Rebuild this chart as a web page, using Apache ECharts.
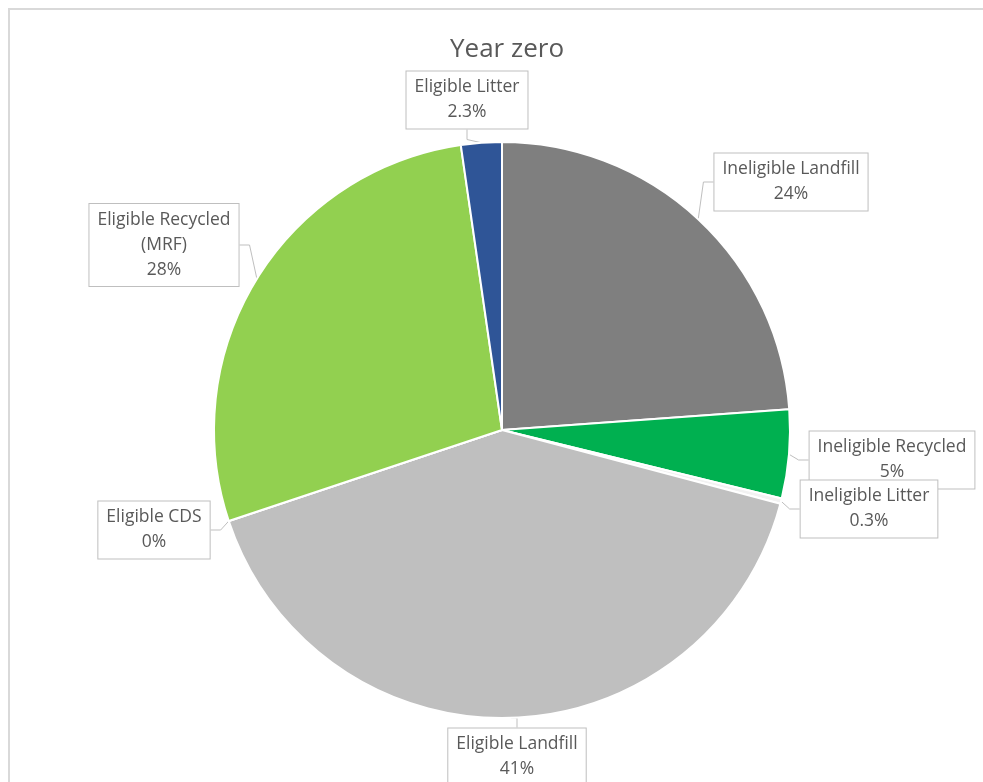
<!DOCTYPE html>
<html>
<head>
<meta charset="utf-8">
<title>Year zero</title>
<script src="https://cdn.jsdelivr.net/npm/echarts@6/dist/echarts.min.js"></script>
<style>
  html, body { margin: 0; padding: 0; background: #ffffff; }
  #chart { width: 983px; height: 782px; }
</style>
</head>
<body>
<div id="chart"></div>
<script>
// Waste stream shares in the first year
const categories = [
  'Ineligible Landfill',
  'Ineligible Recycled',
  'Ineligible Litter',
  'Eligible Landfill',
  'Eligible CDS',
  'Eligible Recycled\n(MRF)',
  'Eligible Litter'
];
const shares = [24, 5, 0.3, 41, 0, 28, 2.3];
const colors = ['#7f7f7f', '#00b050', '#f2f2f2', '#bfbfbf', '#a5a5a5', '#92d050', '#2f5597'];

// Callout box centres, one per slice
const calloutAt = [
  [791, 182],
  [892, 460],
  [869, 509],
  [517, 757],
  [154, 530],
  [164, 245],
  [467, 100]
];

const chart = echarts.init(document.getElementById('chart'), null, { renderer: 'canvas' });

chart.setOption({
  animation: false,
  backgroundColor: '#ffffff',
  title: {
    text: 'Year zero',
    left: 445,
    top: 32,
    textStyle: {
      fontFamily: 'Open Sans',
      fontSize: 26,
      fontWeight: 'normal',
      color: '#595959'
    }
  },
  graphic: [{
    type: 'rect',
    shape: { x: 9, y: 9, width: 1000, height: 800 },
    style: { fill: 'none', stroke: '#d9d9d9', lineWidth: 2 },
    silent: true
  }],
  series: [{
    type: 'pie',
    center: [502, 430],
    radius: 288,
    startAngle: 90,
    clockwise: true,
    avoidLabelOverlap: false,
    data: categories.map((name, i) => ({
      name: name,
      value: shares[i],
      itemStyle: { color: colors[i] }
    })),
    itemStyle: { borderColor: '#ffffff', borderWidth: 2 },
    label: {
      show: true,
      position: 'outside',
      formatter: p => p.name + '\n' + p.value + '%',
      fontFamily: 'Open Sans',
      fontSize: 17.5,
      lineHeight: 25,
      color: '#595959',
      align: 'center',
      backgroundColor: '#ffffff',
      borderColor: '#bfbfbf',
      borderWidth: 1,
      padding: [4, 8, 3, 8]
    },
    labelLine: {
      show: true,
      length: 10,
      length2: 10,
      lineStyle: { color: '#bfbfbf', width: 1 }
    },
    labelLayout: params => {
      const pos = calloutAt[params.dataIndex];
      return { x: pos[0], y: pos[1], align: 'center', verticalAlign: 'middle' };
    },
    emphasis: { disabled: true }
  }]
});
</script>
</body>
</html>
